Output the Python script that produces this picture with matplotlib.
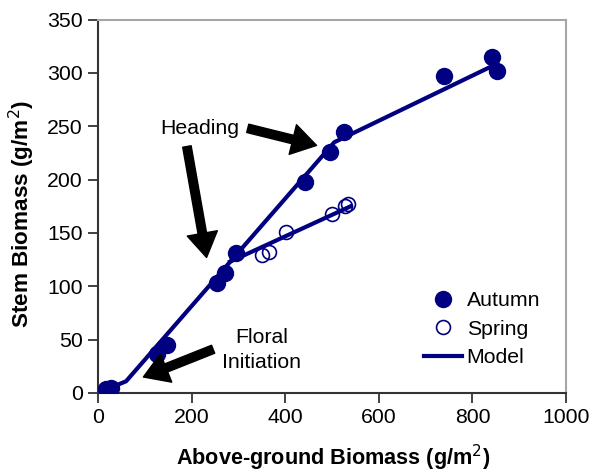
import matplotlib
matplotlib.use("Agg")
import matplotlib.pyplot as plt

plt.rcParams['font.family'] = ['Liberation Sans', 'DejaVu Sans']

# Data
autumn_x = [17, 27, 126, 147, 255, 271, 295, 442, 496, 526, 740, 841, 852]
autumn_y = [4, 5, 37, 45, 103, 112, 131, 198, 226, 245, 297, 315, 302]
spring_x = [350, 366, 402, 499, 528, 535]
spring_y = [129, 132, 151, 168, 175, 177]
model_autumn_x = [0, 60, 505, 850]
model_autumn_y = [0, 11, 235, 308]
model_spring_x = [282, 540]
model_spring_y = [123, 175]
x_ticks = [0, 200, 400, 600, 800, 1000]
y_ticks = [0, 50, 100, 150, 200, 250, 300, 350]

navy = '#000080'
fs = 15.3

fig = plt.figure(figsize=(5.98, 4.76), dpi=100)
ax = fig.add_axes([98/598, 1-393/476, 468/598, 373.5/476])

ax.plot(model_autumn_x, model_autumn_y, color=navy, lw=3.0, label='Model', zorder=2)
ax.plot(model_spring_x, model_spring_y, color=navy, lw=3.0, zorder=2)
ax.plot(autumn_x, autumn_y, 'o', color=navy, ms=11.5, label='Autumn', zorder=3)
ax.plot(spring_x, spring_y, 'o', mfc='none', mec=navy, mew=1.2, ms=10, label='Spring', zorder=3)

ax.set_xlim(0, 1000)
ax.set_ylim(0, 350)
ax.set_xticks(x_ticks)
ax.set_yticks(y_ticks)
ax.tick_params(axis='both', direction='out', length=7, width=1.3, color='#333333',
               labelsize=fs, pad=4)

for s in ['left', 'bottom']:
    ax.spines[s].set_color('#333333')
    ax.spines[s].set_linewidth(1.5)
for s in ['top', 'right']:
    ax.spines[s].set_color('#a6a6a6')
    ax.spines[s].set_linewidth(1.5)

ax.set_xlabel('Above-ground Biomass (g/m$^2$)', fontsize=15.6, fontweight='bold')
ax.set_ylabel('Stem Biomass (g/m$^2$)', fontsize=16.2, fontweight='bold')
ax.xaxis.set_label_coords(0.502, -0.133)
ax.yaxis.set_label_coords(-0.130, 0.479)

arrow_style = 'simple,head_length=0.8,head_width=1.0,tail_width=0.28'
aprops = dict(arrowstyle=arrow_style, color='black', mutation_scale=22, shrinkA=0, shrinkB=0)

ax.text(218, 248, 'Heading', fontsize=fs, ha='center', va='center')
ax.annotate('', xy=(467, 232), xytext=(320, 248), arrowprops=aprops)
ax.annotate('', xy=(232, 127), xytext=(190, 231), arrowprops=aprops)

ax.text(349, 40, 'Floral\nInitiation', fontsize=fs, ha='center', va='center', linespacing=1.4)
ax.annotate('', xy=(97, 15), xytext=(246, 41), arrowprops=aprops)

handles, labels = ax.get_legend_handles_labels()
order = [1, 2, 0]
leg = ax.legend([handles[i] for i in order], [labels[i] for i in order],
                loc='lower right', bbox_to_anchor=(0.963, 0.046), frameon=False,
                fontsize=fs, handlelength=1.8, handletextpad=0.2, labelspacing=0.45,
                borderaxespad=0)

fig.savefig('out.png', dpi=100)
